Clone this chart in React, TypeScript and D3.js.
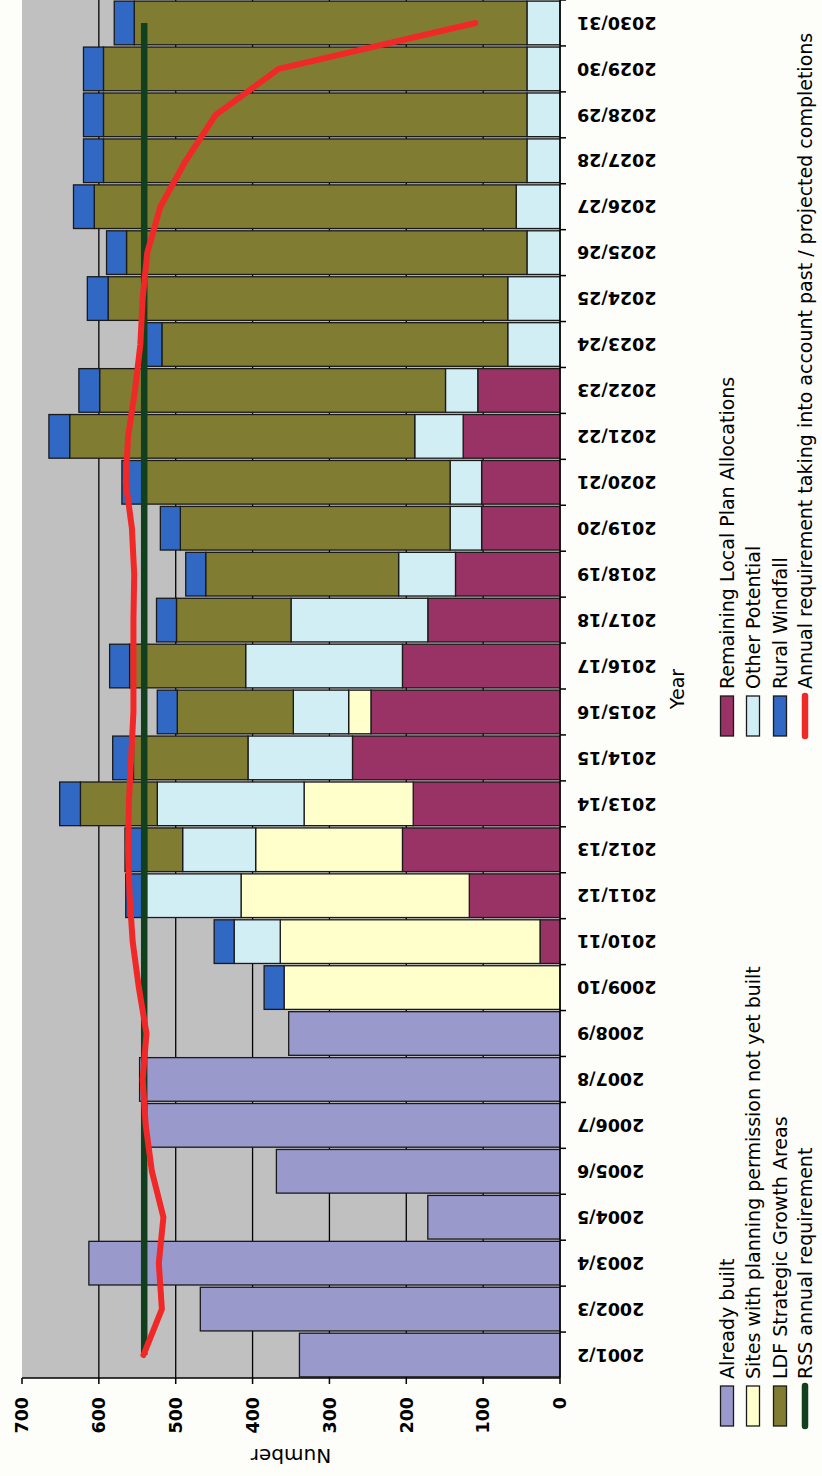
import React from "react";
import * as d3 from "d3";

// housing trajectory (values are dwellings per year)
const years = [
  "2001/2", "2002/3", "2003/4", "2004/5", "2005/6", "2006/7", "2007/8", "2008/9", "2009/10", "2010/11",
  "2011/12", "2012/13", "2013/14", "2014/15", "2015/16", "2016/17", "2017/18", "2018/19", "2019/20", "2020/21",
  "2021/22", "2022/23", "2023/24", "2024/25", "2025/26", "2026/27", "2027/28", "2028/29", "2029/30", "2030/31",
];

const alreadyBuilt = [339, 468, 613, 172, 369, 538, 547, 353, 0, 0, 0, 0, 0, 0, 0, 0, 0, 0, 0, 0, 0, 0, 0, 0, 0, 0, 0, 0, 0, 0];
const remainingLPA = [0, 0, 0, 0, 0, 0, 0, 0, 0, 26, 118, 205, 191, 270, 246, 205, 172, 136, 102, 102, 126, 107, 0, 0, 0, 0, 0, 0, 0, 0];
const sitesWithPP = [0, 0, 0, 0, 0, 0, 0, 0, 359, 338, 297, 191, 142, 0, 29, 0, 0, 0, 0, 0, 0, 0, 0, 0, 0, 0, 0, 0, 0, 0];
const otherPotential = [0, 0, 0, 0, 0, 0, 0, 0, 0, 60, 123, 95, 191, 136, 72, 204, 178, 74, 41, 41, 63, 42, 68, 68, 43, 57, 43, 43, 43, 43];
const ldfGrowth = [0, 0, 0, 0, 0, 0, 0, 0, 0, 0, 0, 47, 100, 149, 151, 151, 149, 251, 351, 400, 449, 450, 450, 520, 521, 549, 551, 551, 551, 511];
const ruralWindfall = [0, 0, 0, 0, 0, 0, 0, 0, 26, 26, 27, 28, 27, 27, 26, 26, 26, 26, 26, 27, 27, 27, 27, 27, 26, 27, 26, 26, 26, 26];

const rssRequirement = [541, 541, 541, 541, 541, 541, 541, 541, 541, 541, 541, 541, 541, 541, 541, 541, 541, 541, 541, 541, 541, 541, 541, 541, 541, 541, 541, 541, 541, 541];
const annualRequirement = [542, 518, 522, 516, 531, 539, 543, 538, 548, 556, 560, 562, 561, 558, 555, 555, 555, 554, 557, 565, 562, 553, 546, 543, 537, 520, 487, 448, 366, 110];

const valueTicks = [0, 100, 200, 300, 400, 500, 600, 700];

const seriesKeys = ["alreadyBuilt", "remainingLPA", "sitesWithPP", "otherPotential", "ldfGrowth", "ruralWindfall"];
const seriesNames = [
  "Already built",
  "Remaining Local Plan Allocations",
  "Sites with planning permission not yet built",
  "Other Potential",
  "LDF Strategic Growth Areas",
  "Rural Windfall",
];
const seriesColors = ["#9999cc", "#993366", "#ffffcc", "#d2eef5", "#807d33", "#3068c4"];
const rssName = "RSS annual requirement";
const annualName = "Annual requirement taking into account past / projected completions";
const rssColor = "#123f1e";
const annualColor = "#f02828";

const font = "'DejaVu Sans', Verdana, sans-serif";

const App: React.FC = () => {
  // the chart is laid out landscape (W x H) and then turned a quarter to the left
  const W = 1476;
  const pageW = 822;

  const x = d3.scaleBand<string>().domain(years).range([98, W]).paddingInner(0.05).paddingOuter(0.025);
  const y = d3.scaleLinear().domain([0, 700]).range([560, 22]);
  const bw = x.bandwidth();
  const cx = (yr: string) => (x(yr) as number) + bw / 2;

  const rows = years.map((yr, i) => ({
    year: yr,
    alreadyBuilt: alreadyBuilt[i],
    remainingLPA: remainingLPA[i],
    sitesWithPP: sitesWithPP[i],
    otherPotential: otherPotential[i],
    ldfGrowth: ldfGrowth[i],
    ruralWindfall: ruralWindfall[i],
  }));
  const stacked = d3.stack<any>().keys(seriesKeys)(rows);

  const line = d3
    .line<number>()
    .x((_, i) => cx(years[i]))
    .y((d) => y(d));

  // legend is two columns, Excel fills it row by row
  const legendRowY = [727, 753, 780, 805];
  const legendColX = [50, 740];
  const legendItems = [
    { name: seriesNames[0], color: seriesColors[0], kind: "box" },
    { name: seriesNames[1], color: seriesColors[1], kind: "box" },
    { name: seriesNames[2], color: seriesColors[2], kind: "box" },
    { name: seriesNames[3], color: seriesColors[3], kind: "box" },
    { name: seriesNames[4], color: seriesColors[4], kind: "box" },
    { name: seriesNames[5], color: seriesColors[5], kind: "box" },
    { name: rssName, color: rssColor, kind: "line" },
    { name: annualName, color: annualColor, kind: "line" },
  ];

  return (
    <svg
      width={pageW}
      height={W}
      style={{ position: "absolute", left: 0, top: 0, display: "block", background: "#fdfdfa" }}
    >
      <g transform={`translate(0,${W}) rotate(-90)`} fontFamily={font}>
        {/* plot area */}
        <rect x={98} y={y(700)} width={W - 98} height={y(0) - y(700)} fill="#c0c0c0" />
        {valueTicks
          .filter((t) => t > 0 && t < 700)
          .map((t) => (
            <line key={t} x1={98} x2={W} y1={y(t)} y2={y(t)} stroke="#000" strokeWidth={1.3} />
          ))}

        {/* stacked bars */}
        {stacked.map((s, si) => (
          <g key={s.key} fill={seriesColors[si]} stroke="#1a1a1a" strokeWidth={1.3}>
            {s
              .filter((d) => d[1] - d[0] > 0)
              .map((d) => (
                <rect
                  key={d.data.year}
                  x={x(d.data.year)}
                  width={bw}
                  y={y(d[1])}
                  height={y(d[0]) - y(d[1])}
                />
              ))}
          </g>
        ))}

        {/* requirement lines */}
        <path d={line(rssRequirement) as string} fill="none" stroke={rssColor} strokeWidth={6.5} />
        <path
          d={line(annualRequirement) as string}
          fill="none"
          stroke={annualColor}
          strokeWidth={6}
          strokeLinejoin="round"
          strokeLinecap="round"
        />

        {/* value axis */}
        <line x1={98} x2={98} y1={y(0)} y2={y(700)} stroke="#000" strokeWidth={1.5} />
        {valueTicks.map((t) => (
          <g key={t}>
            <line x1={92} x2={98} y1={y(t)} y2={y(t)} stroke="#000" strokeWidth={1.5} />
            <text x={79} y={y(t)} dy="0.36em" textAnchor="end" fontSize={17.5} fontWeight="bold" fill="#000">
              {t}
            </text>
          </g>
        ))}
        <text
          transform={`translate(20,${(y(0) + y(700)) / 2}) rotate(-90)`}
          textAnchor="middle"
          dy="0.36em"
          fontSize={20}
          fill="#000"
        >
          Number
        </text>

        {/* category axis */}
        <line x1={98} x2={W} y1={y(0)} y2={y(0)} stroke="#000" strokeWidth={1.5} />
        {years.map((yr, i) => (
          <line
            key={yr}
            x1={98 + (i + 1) * x.step()}
            x2={98 + (i + 1) * x.step()}
            y1={y(0)}
            y2={y(0) + 6}
            stroke="#000"
            strokeWidth={1.5}
          />
        ))}
        {years.map((yr) => (
          <text
            key={yr}
            transform={`translate(${cx(yr)},577) rotate(-90)`}
            textAnchor="end"
            dy="0.36em"
            fontSize={17.5}
            fontWeight="bold"
            fill="#000"
          >
            {yr}
          </text>
        ))}
        <text x={(98 + W) / 2} y={677} dy="0.36em" textAnchor="middle" fontSize={19} fill="#000">
          Year
        </text>

        {/* legend */}
        {legendItems.map((it, i) => {
          const lx = legendColX[i % 2];
          const ly = legendRowY[Math.floor(i / 2)];
          return (
            <g key={it.name}>
              {it.kind === "box" ? (
                <rect x={lx} y={ly - 6.5} width={40} height={13} fill={it.color} stroke="#1a1a1a" strokeWidth={1.3} />
              ) : (
                <line x1={lx} x2={lx + 40} y1={ly} y2={ly} stroke={it.color} strokeWidth={6.5} strokeLinecap="round" />
              )}
              <text x={lx + 47} y={ly} dy="0.36em" fontSize={19} fill="#000">
                {it.name}
              </text>
            </g>
          );
        })}
      </g>
    </svg>
  );
};

export default App;
